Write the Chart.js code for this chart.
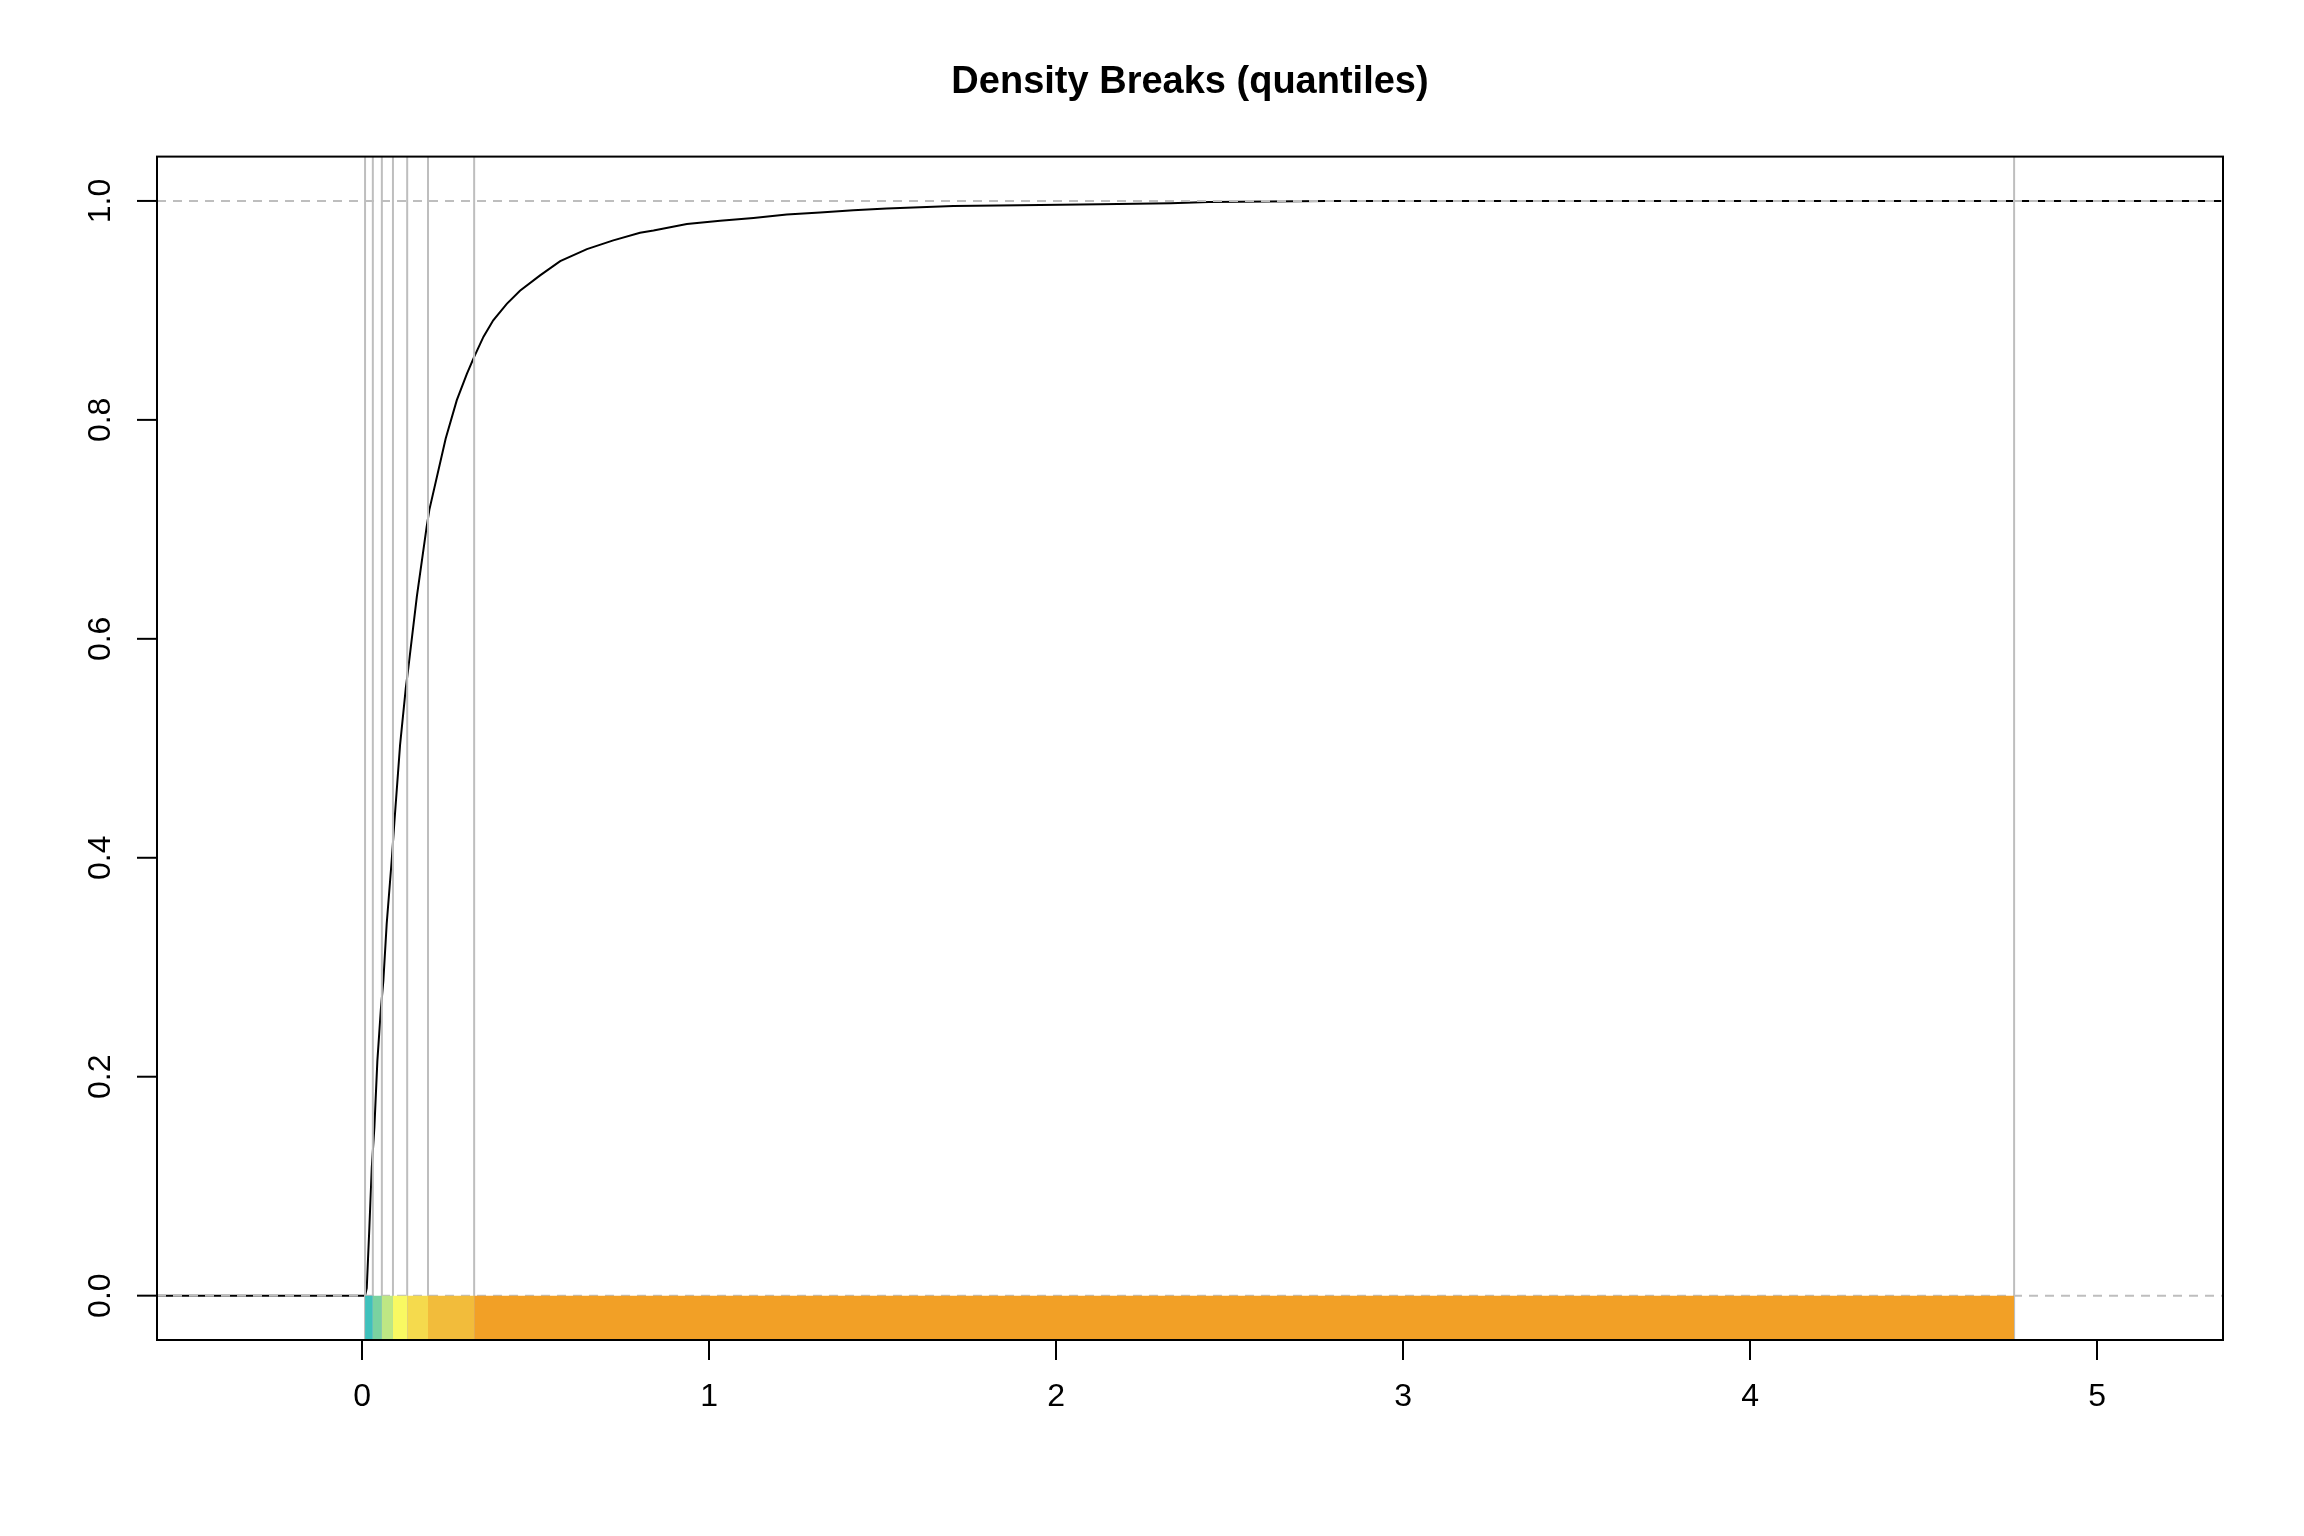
<!DOCTYPE html>
<html>
<head>
<meta charset="utf-8">
<title>Density Breaks (quantiles)</title>
<script src="https://cdn.jsdelivr.net/npm/chart.js@4.4.1/dist/chart.umd.min.js"></script>
<style>
  html, body { margin: 0; padding: 0; background: #ffffff; }
  #chart { display: block; }
</style>
</head>
<body>
<canvas id="chart" width="2304" height="1536" style="width:2304px;height:1536px"></canvas>
<script>
// cumulative curve
const curveX = [-0.6, 0.0086, 0.0135, 0.021, 0.028, 0.0355, 0.044, 0.054, 0.0614, 0.071, 0.0855, 0.093,
  0.1095, 0.126, 0.1335, 0.158, 0.186, 0.194, 0.241, 0.273, 0.302, 0.323, 0.350, 0.378, 0.417, 0.455,
  0.513, 0.571, 0.648, 0.724, 0.801, 0.840, 0.936, 1.032, 1.128, 1.224, 1.320, 1.416, 1.512, 1.608,
  1.704, 1.896, 2.127, 2.33, 2.44, 2.78, 5.4];
const curveY = [0, 0, 0.007, 0.062, 0.117, 0.154, 0.214, 0.261, 0.288, 0.340, 0.398, 0.432,
  0.503, 0.555, 0.574, 0.639, 0.702, 0.718, 0.783, 0.818, 0.842, 0.8575, 0.876, 0.891, 0.906, 0.918,
  0.932, 0.945, 0.956, 0.964, 0.971, 0.973, 0.979, 0.982, 0.9845, 0.9876, 0.9894, 0.9915, 0.993, 0.9942,
  0.9954, 0.996, 0.997, 0.998, 0.999, 1.0, 1.0];

// quantile breaks and class colours
const breaks = [0.0086, 0.031, 0.057, 0.089, 0.130, 0.190, 0.323, 4.761];
const classColors = ["#3EC1BC", "#7AD2A0", "#BEE784", "#F9F962", "#F5DA4D", "#F2BC3B", "#F2A026"];

const refLines = [0, 1];
const xTicks = [0, 1, 2, 3, 4, 5];
const yTicks = [0, 0.2, 0.4, 0.6, 0.8, 1.0];
const yTickLabels = ["0.0", "0.2", "0.4", "0.6", "0.8", "1.0"];

const xMin = -0.591, xMax = 5.363;
const yMin = -0.0405, yMax = 1.0405;
const FONT = "'Liberation Sans', Arial, Helvetica, sans-serif";

const datasets = [];

// the curve (drawn first, everything else goes over it)
datasets.push({
  data: curveX.map((x, i) => ({ x: x, y: curveY[i] })),
  borderColor: "#000000",
  borderWidth: 2,
  pointRadius: 0,
  tension: 0,
  fill: false,
  order: 30
});

// gray vertical lines at every break
breaks.forEach(b => {
  datasets.push({
    data: [{ x: b, y: yMin }, { x: b, y: yMax }],
    borderColor: "#BEBEBE",
    borderWidth: 2,
    pointRadius: 0,
    fill: false,
    order: 20
  });
});

// dashed reference lines at 0 and 1
refLines.forEach(v => {
  datasets.push({
    data: [{ x: xMin, y: v }, { x: xMax, y: v }],
    borderColor: "#BEBEBE",
    borderWidth: 2,
    borderDash: [9, 7],
    pointRadius: 0,
    fill: false,
    order: 10
  });
});

// coloured class strip under y = 0
classColors.forEach((c, i) => {
  datasets.push({
    data: [{ x: breaks[i], y: 0 }, { x: breaks[i + 1], y: 0 }],
    borderColor: "rgba(0,0,0,0)",
    borderWidth: 0,
    backgroundColor: c,
    pointRadius: 0,
    fill: { value: yMin },
    order: 0
  });
});

const framePlugin = {
  id: "frame",
  beforeDraw(chart) {
    const c = chart.ctx;
    c.save();
    c.fillStyle = "#ffffff";
    c.fillRect(0, 0, chart.width, chart.height);
    c.restore();
  },
  afterDraw(chart) {
    const c = chart.ctx;
    const a = chart.chartArea;
    const ys = chart.scales.y;
    c.save();
    // box round the plot
    c.strokeStyle = "#000000";
    c.lineWidth = 2;
    c.strokeRect(a.left, a.top, a.right - a.left, a.bottom - a.top);
    // y tick marks and labels, labels parallel to the axis
    c.fillStyle = "#000000";
    c.font = "32px " + FONT;
    c.textAlign = "center";
    c.textBaseline = "middle";
    yTicks.forEach((v, i) => {
      const py = ys.getPixelForValue(v);
      c.beginPath();
      c.moveTo(a.left - 20, py);
      c.lineTo(a.left, py);
      c.stroke();
      c.save();
      c.translate(101, py);
      c.rotate(-Math.PI / 2);
      c.fillText(yTickLabels[i], 0, 0);
      c.restore();
    });
    c.restore();
  }
};

new Chart(document.getElementById("chart").getContext("2d"), {
  type: "line",
  data: { datasets: datasets },
  plugins: [framePlugin],
  options: {
    responsive: false,
    devicePixelRatio: 1,
    animation: false,
    events: [],
    // left padding equals the right edge gap so the title centres over the plot
    layout: { padding: { left: 157, right: 81, top: 0, bottom: 0 } },
    plugins: {
      legend: { display: false },
      tooltip: { enabled: false },
      title: {
        display: true,
        text: "Density Breaks (quantiles)",
        color: "#000000",
        font: { family: FONT, size: 38, weight: "bold", lineHeight: 1.2 },
        padding: { top: 60, bottom: 51 }
      }
    },
    scales: {
      x: {
        type: "linear",
        min: xMin,
        max: xMax,
        afterBuildTicks: s => { s.ticks = xTicks.map(v => ({ value: v })); },
        afterFit: s => { s.height = 196; },
        border: { display: false },
        grid: { drawOnChartArea: false, drawTicks: true, tickLength: 20, color: "#000000", lineWidth: 2 },
        ticks: {
          color: "#000000",
          font: { family: FONT, size: 32 },
          padding: 18,
          maxRotation: 0,
          minRotation: 0,
          callback: v => String(v)
        }
      },
      y: {
        type: "linear",
        min: yMin,
        max: yMax,
        afterBuildTicks: s => { s.ticks = yTicks.map(v => ({ value: v })); },
        afterFit: s => { s.width = 0; },
        border: { display: false },
        grid: { display: false },
        ticks: { display: false }
      }
    }
  }
});
</script>
</body>
</html>
